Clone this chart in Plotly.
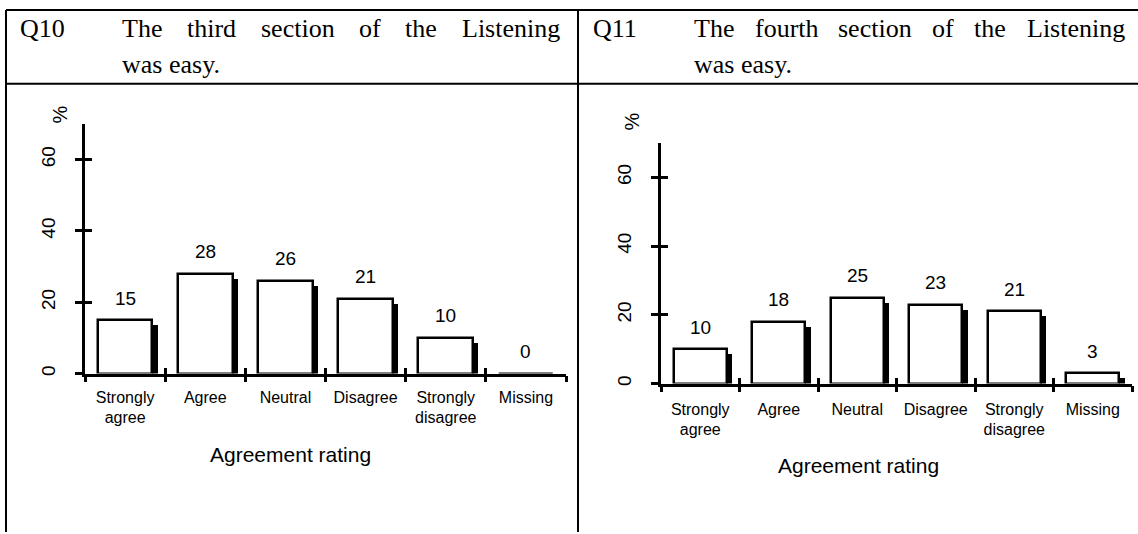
import plotly.graph_objects as go

# ---------------- data ----------------
categories = ["Strongly<br>agree", "Agree", "Neutral", "Disagree", "Strongly<br>disagree", "Missing"]
q10_values = [15, 28, 26, 21, 10, 0]
q11_values = [10, 18, 25, 23, 21, 3]
y_ticks = [0, 20, 40, 60]
y_max = 70
q10_label = "Q10"
q11_label = "Q11"
q10_line1 = ["The", "third", "section", "of", "the", "Listening"]
q11_line1 = ["The", "fourth", "section", "of", "the", "Listening"]
line2 = "was easy."
x_title = "Agreement rating"
y_title = "%"

W, H = 1138, 534


def px(x):
    return x / W


def py(y):
    return 1 - y / H


SANS = "Liberation Sans, Arial, Helvetica, sans-serif"
SERIF = "Liberation Serif, Times New Roman, serif"

fig = go.Figure()

panels = [
    dict(vals=q10_values, x="x", y="y", xo="x3", yo="y3",
         xdom=(85, 566), ybot=375, ppu=3.58, xstand=7),
    dict(vals=q11_values, x="x2", y="y2", xo="x4", yo="y4",
         xdom=(661, 1132), ybot=385, ppu=3.45, xstand=9),
]

layout_axes = {}
annotations = []

for i, p in enumerate(panels):
    drop = 5 / p["ppu"]
    shadow = [max(v - drop, 0) for v in p["vals"]]
    fig.add_trace(go.Bar(x=categories, y=shadow, width=0.075, offset=0.332,
                         marker=dict(color="black", line=dict(width=0)),
                         xaxis=p["x"], yaxis=p["y"], showlegend=False,
                         hoverinfo="skip"))
    fig.add_trace(go.Bar(x=categories, y=p["vals"], width=0.68, offset=-0.34,
                         marker=dict(color="white", line=dict(color="black", width=2.5)),
                         xaxis=p["x"], yaxis=p["y"], showlegend=False))
    fig.add_trace(go.Scatter(x=categories, y=[None] * len(categories), mode="markers",
                             xaxis=p["xo"], yaxis=p["yo"], showlegend=False,
                             hoverinfo="skip"))

    ytop = p["ybot"] - y_max * p["ppu"]
    xd = [px(p["xdom"][0]), px(p["xdom"][1])]
    yd = [py(p["ybot"]), py(ytop)]
    xn = "xaxis" + p["x"][1:]
    yn = "yaxis" + p["y"][1:]
    xon = "xaxis" + p["xo"][1:]
    yon = "yaxis" + p["yo"][1:]
    common_x = dict(type="category", categoryorder="array", categoryarray=categories,
                    range=[-0.5, len(categories) - 0.5], tickson="boundaries",
                    showgrid=False, zeroline=False, tickwidth=2.5, tickcolor="black",
                    ticklen=6)
    common_y = dict(range=[0, y_max], tickvals=y_ticks, showgrid=False, zeroline=False,
                    tickwidth=2.5, tickcolor="black", ticklen=7, type="linear")
    layout_axes[xn] = dict(common_x, domain=xd, anchor=p["y"], ticks="outside",
                           showline=True, linewidth=2.5, linecolor="black",
                           tickfont=dict(family=SANS, size=16, color="black"),
                           ticklabelstandoff=p["xstand"])
    layout_axes[yn] = dict(common_y, domain=yd, anchor=p["x"], ticks="outside",
                           showline=True, linewidth=2.5, linecolor="black",
                           tickangle=-90,
                           tickfont=dict(family=SANS, size=19, color="black"),
                           ticklabelstandoff=13)
    layout_axes[xon] = dict(common_x, overlaying=p["x"], anchor=p["yo"], ticks="inside",
                            showticklabels=False, showline=False)
    layout_axes[yon] = dict(common_y, overlaying=p["y"], anchor=p["xo"], ticks="inside",
                            showticklabels=False, showline=False)

    for c, v in zip(categories, p["vals"]):
        annotations.append(dict(x=c, y=v, xref=p["x"], yref=p["y"], text=str(v),
                                showarrow=False, yshift=22, yanchor="middle",
                                font=dict(family=SANS, size=19, color="black")))

# axis titles and % labels
for x, y in ((290, 456), (858, 467)):
    annotations.append(dict(x=px(x), y=py(y), xref="paper", yref="paper", text=x_title,
                            showarrow=False, xanchor="center", yanchor="middle",
                            font=dict(family=SANS, size=21, color="black")))
for x, y in ((60, 115), (632, 122)):
    annotations.append(dict(x=px(x), y=py(y), xref="paper", yref="paper", text=y_title,
                            showarrow=False, textangle=-90, xanchor="center", yanchor="middle",
                            font=dict(family=SANS, size=20, color="black")))

# header text (justified first line -> word by word)
hdr_font = dict(family=SERIF, size=26, color="black")
left_x = [120, 185, 259, 357, 403, 460]
right_x = [692, 753, 836, 930, 972, 1025]
for words, xs in ((q10_line1, left_x), (q11_line1, right_x)):
    for w, x in zip(words, xs):
        annotations.append(dict(x=px(x), y=py(29), xref="paper", yref="paper", text=w,
                                showarrow=False, xanchor="left", yanchor="middle",
                                font=hdr_font))
for lab, x in ((q10_label, 18), (q11_label, 591)):
    annotations.append(dict(x=px(x), y=py(29), xref="paper", yref="paper", text=lab,
                            showarrow=False, xanchor="left", yanchor="middle", font=hdr_font))
for x in (120, 692):
    annotations.append(dict(x=px(x), y=py(65), xref="paper", yref="paper", text=line2,
                            showarrow=False, xanchor="left", yanchor="middle", font=hdr_font))

# table rules
line = dict(color="black", width=2)
shapes = [
    dict(type="line", xref="paper", yref="paper", x0=px(6), x1=1, y0=py(10), y1=py(10), line=line),
    dict(type="line", xref="paper", yref="paper", x0=px(6), x1=1, y0=py(84), y1=py(84), line=line),
    dict(type="line", xref="paper", yref="paper", x0=px(6), x1=px(6), y0=py(10), y1=0, line=line),
    dict(type="line", xref="paper", yref="paper", x0=px(578), x1=px(578), y0=py(10), y1=0, line=line),
]

fig.update_layout(width=W, height=H, autosize=False,
                  margin=dict(l=0, r=0, t=0, b=0, pad=0),
                  paper_bgcolor="white", plot_bgcolor="rgba(0,0,0,0)",
                  barmode="overlay", bargap=0, showlegend=False,
                  annotations=annotations, shapes=shapes, **layout_axes)

fig.write_html("out.html", config={"displayModeBar": False},
               post_script="document.body.style.margin='0';document.body.style.overflow='hidden';")
